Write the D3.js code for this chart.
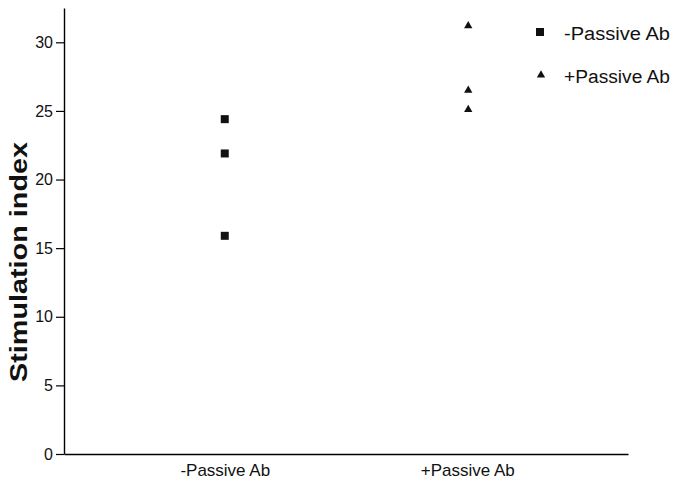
<!DOCTYPE html>
<html>
<head>
<meta charset="utf-8">
<script src="https://cdn.jsdelivr.net/npm/d3@7"></script>
<style>
body { margin: 0; background: #fff; }
svg { font-family: "Liberation Sans", Arial, sans-serif; }
</style>
</head>
<body>
<svg></svg>
<script>
var width = 679;
var height = 480;

var groups = ['-Passive Ab', '+Passive Ab'];
var minusValues = [24.4, 21.9, 15.9];
var plusValues = [31.2, 26.5, 25.1];
var yTicks = [0, 5, 10, 15, 20, 25, 30];

var svg = d3.select('svg')
    .attr('width', width)
    .attr('height', height);

var Yscale = d3.scaleLinear().domain([0, 32.5]).range([454, 8]);
var Xscale = d3.scalePoint().domain(groups).range([64, 628]).padding(0.663);

// y axis
var Yaxis = d3.axisLeft(Yscale)
    .tickValues(yTicks)
    .tickSize(8)
    .tickSizeOuter(0)
    .tickPadding(3);

var yg = svg.append('g')
    .attr('transform', 'translate(64,0)')
    .call(Yaxis);
yg.select('.domain').attr('stroke-width', 1.4);
yg.selectAll('.tick line').attr('stroke-width', 1.2);
yg.selectAll('.tick text').style('font-size', '16px').attr('fill', '#111');

// x axis (no ticks)
var Xaxis = d3.axisBottom(Xscale).tickSize(0).tickSizeOuter(0).tickPadding(10);
var xg = svg.append('g')
    .attr('transform', 'translate(0,454)')
    .call(Xaxis);
xg.select('.domain').attr('stroke-width', 1.4);
xg.selectAll('.tick text').style('font-size', '17px').attr('fill', '#111');

// squares
svg.append('g').selectAll('rect')
    .data(minusValues)
    .enter()
    .append('rect')
    .attr('x', Xscale(groups[0]) - 4)
    .attr('y', d => Yscale(d) - 4)
    .attr('width', 8)
    .attr('height', 8)
    .attr('fill', '#111');

// triangles
var tri = d3.symbol().type(d3.symbolTriangle).size(30);
svg.append('g').selectAll('path')
    .data(plusValues)
    .enter()
    .append('path')
    .attr('d', tri)
    .attr('transform', d => `translate(${Xscale(groups[1]) + 1},${Yscale(d)})`)
    .attr('fill', '#111');

// legend
var legend = svg.append('g');
legend.append('rect')
    .attr('x', 536).attr('y', 28)
    .attr('width', 8).attr('height', 8)
    .attr('fill', '#111');
legend.append('path')
    .attr('d', tri)
    .attr('transform', 'translate(541,75)')
    .attr('fill', '#111');
legend.selectAll('text')
    .data(groups)
    .enter()
    .append('text')
    .attr('x', 564)
    .attr('y', (d, i) => 40 + i * 43)
    .attr('textLength', 106)
    .attr('lengthAdjust', 'spacingAndGlyphs')
    .style('font-size', '18px')
    .attr('fill', '#111')
    .text(d => d);

// y label
svg.append('text')
    .attr('text-anchor', 'middle')
    .attr('transform', 'translate(27,262) rotate(-90)')
    .attr('textLength', 240)
    .attr('lengthAdjust', 'spacingAndGlyphs')
    .style('font-size', '23px')
    .style('font-weight', 'bold')
    .attr('fill', '#111')
    .text('Stimulation index');
</script>
</body>
</html>
